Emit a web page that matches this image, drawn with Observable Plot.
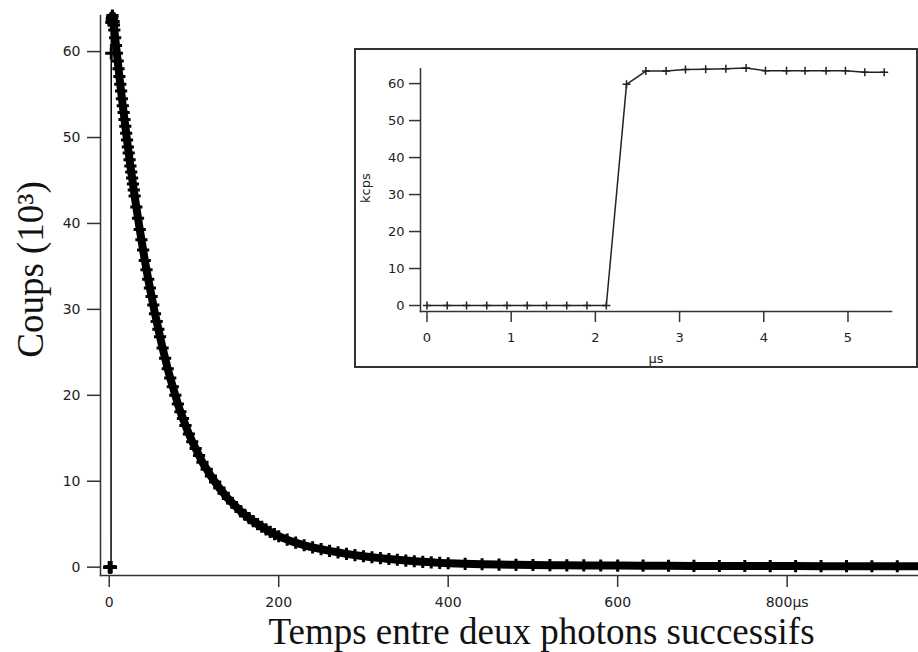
<!DOCTYPE html>
<html><head><meta charset="utf-8">
<script src="https://cdn.jsdelivr.net/npm/d3@7"></script>
<script src="https://cdn.jsdelivr.net/npm/@observablehq/plot@0.6"></script>
<style>
body{margin:0;background:#fff;}
#wrap{position:relative;width:918px;height:652px;overflow:hidden;background:#fff;}
#main{position:absolute;left:0;top:0;}
#inset{position:absolute;left:354px;top:48px;width:564px;height:320px;box-sizing:border-box;border:2px solid #333;background:#fff;}
svg{display:block;}
</style></head><body>
<div id="wrap"><div id="main"></div><div id="inset"></div></div>
<script>
// Inset: detector response around the start (µs, kcps)
const insetTime = [0,0.24,0.47,0.71,0.95,1.19,1.42,1.66,1.90,2.13,2.37,2.60,2.84,3.07,3.31,3.55,3.79,4.02,4.27,4.49,4.74,4.97,5.20,5.43];
const insetKcps = [0,0,0,0,0,0,0,0,0,0,59.8,63.4,63.4,63.8,63.9,64.0,64.2,63.5,63.5,63.5,63.5,63.5,63.1,63.1];

// Main histogram: time between two successive photons (µs) vs counts (10^3)
const decayTime = [6,7,8,9,10,11,12,13,14,15,16,17,18,19,20,21,22,23,24,25,26,27,28,29,30,32,34,36,38,40,42,44,46,48,50,52,54,56,58,60,63,66,69,72,75,78,81,84,87,90,94,98,102,106,110,115,120,125,130,135,140,145,150,155,160,165,170,175,180,185,190,195,200,210,220,230,240,250,260,270,280,290,300,310,320,330,340,350,360,370,380,390,400,420,440,460,480,500,520,540,560,580,600,630,660,690,720,750,780,810,840,870,900,930,960];
const decayCounts = [62.5,61.6,60.7,59.8,58.9,58.0,57.1,56.2,55.4,54.5,53.7,52.9,52.1,51.3,50.5,49.7,48.9,48.2,47.4,46.7,46.0,45.3,44.6,43.9,43.2,41.9,40.6,39.3,38.1,36.9,35.7,34.6,33.5,32.5,31.5,30.5,29.5,28.6,27.7,26.8,25.5,24.3,23.1,22.0,21.0,20.0,19.0,18.1,17.3,16.5,15.5,14.6,13.8,13.0,12.2,11.4,10.6,9.9,9.2,8.6,8.0,7.5,7.0,6.5,6.1,5.7,5.35,5.0,4.7,4.4,4.1,3.85,3.6,3.2,2.85,2.55,2.3,2.1,1.9,1.72,1.55,1.4,1.27,1.15,1.05,0.95,0.86,0.77,0.69,0.62,0.56,0.5,0.46,0.39,0.34,0.3,0.27,0.25,0.23,0.21,0.2,0.19,0.18,0.17,0.16,0.15,0.14,0.14,0.13,0.13,0.12,0.12,0.11,0.11,0.1];

const mainXTicks = [0,200,400,600,800];
const mainYTicks = [0,10,20,30,40,50,60];
const insetXTicks = [0,1,2,3,4,5];
const insetYTicks = [0,10,20,30,40,50,60];
const xTitle = "Temps entre deux photons successifs";
const yTitle = "Coups (10³)";
const insetXLabel = "µs";
const insetYLabel = "kcps";

const insetData = insetTime.map((t,i)=>({t, v: insetKcps[i]}));
const decayData = decayTime.map((t,i)=>({t, v: decayCounts[i]}));
const mainData = insetData.concat(decayData);
const tailData = mainData.filter(d => d.t >= 2.6);

const axisColor = "#333";
const sans = "DejaVu Sans, sans-serif";
const serif = "Liberation Serif, Times New Roman, serif";

const main = Plot.plot({
  width: 918, height: 652,
  marginLeft: 100, marginRight: 0, marginTop: 15, marginBottom: 77,
  x: {domain: [-10.3, 955]},
  y: {domain: [-0.97, 64.2]},
  style: {background: "transparent", color: "#222", overflow: "visible"},
  marks: [
    Plot.frame({anchor: "left", stroke: axisColor, strokeWidth: 1.5}),
    Plot.frame({anchor: "bottom", stroke: axisColor, strokeWidth: 1.5}),
    Plot.axisY(mainYTicks, {tickSize: 13, tickPadding: 7, label: null, stroke: axisColor, strokeWidth: 1.5, fontSize: 14, fontFamily: sans}),
    Plot.axisX(mainXTicks, {tickSize: 12, tickPadding: 10, label: null, stroke: axisColor, strokeWidth: 1.5, fontSize: 14, fontFamily: sans,
      tickFormat: d => d === 800 ? "800µs" : String(d)}),
    Plot.line(mainData, {x: "t", y: "v", stroke: "#000", strokeWidth: 1.5}),
    Plot.line(tailData, {x: "t", y: "v", stroke: "#000", strokeWidth: 8}),
    Plot.dot(mainData, {x: "t", y: "v", symbol: "plus", r: 4, stroke: "#000", strokeWidth: 3, fill: "none"}),
    Plot.text([xTitle], {frameAnchor: "bottom", textAnchor: "middle", dx: 32, dy: 68, lineAnchor: "bottom", fontFamily: serif, fontSize: 37, fill: "#111"}),
    Plot.text([yTitle], {frameAnchor: "left", textAnchor: "middle", rotate: -90, dx: -58, dy: -26, lineAnchor: "bottom", fontFamily: serif, fontSize: 37, fill: "#111"})
  ]
});
document.getElementById("main").appendChild(main);

const inset = Plot.plot({
  width: 560, height: 316,
  marginLeft: 64, marginRight: 25, marginTop: 18.3, marginBottom: 55,
  x: {domain: [-0.077, 5.517]},
  y: {domain: [-1.62, 64.0]},
  style: {background: "transparent", color: "#222", overflow: "visible"},
  marks: [
    Plot.frame({anchor: "left", stroke: axisColor, strokeWidth: 1.5}),
    Plot.frame({anchor: "bottom", stroke: axisColor, strokeWidth: 1.5}),
    Plot.axisY(insetYTicks, {tickSize: 11, tickPadding: 5, label: null, stroke: axisColor, strokeWidth: 1.5, fontSize: 13, fontFamily: sans}),
    Plot.axisX(insetXTicks, {tickSize: 11, tickPadding: 10, label: null, stroke: axisColor, strokeWidth: 1.5, fontSize: 13, fontFamily: sans}),
    Plot.line(insetData, {x: "t", y: "v", stroke: "#222", strokeWidth: 1.5}),
    Plot.dot(insetData, {x: "t", y: "v", symbol: "plus", r: 2.7, stroke: "#222", strokeWidth: 1.5, fill: "none"}),
    Plot.text([insetXLabel], {frameAnchor: "bottom", textAnchor: "middle", dy: 47, lineAnchor: "middle", fontFamily: sans, fontSize: 13}),
    Plot.text([insetYLabel], {frameAnchor: "left", textAnchor: "middle", rotate: -90, dx: -55, dy: -2, lineAnchor: "middle", fontFamily: sans, fontSize: 13})
  ]
});
document.getElementById("inset").appendChild(inset);
</script>
</body></html>
